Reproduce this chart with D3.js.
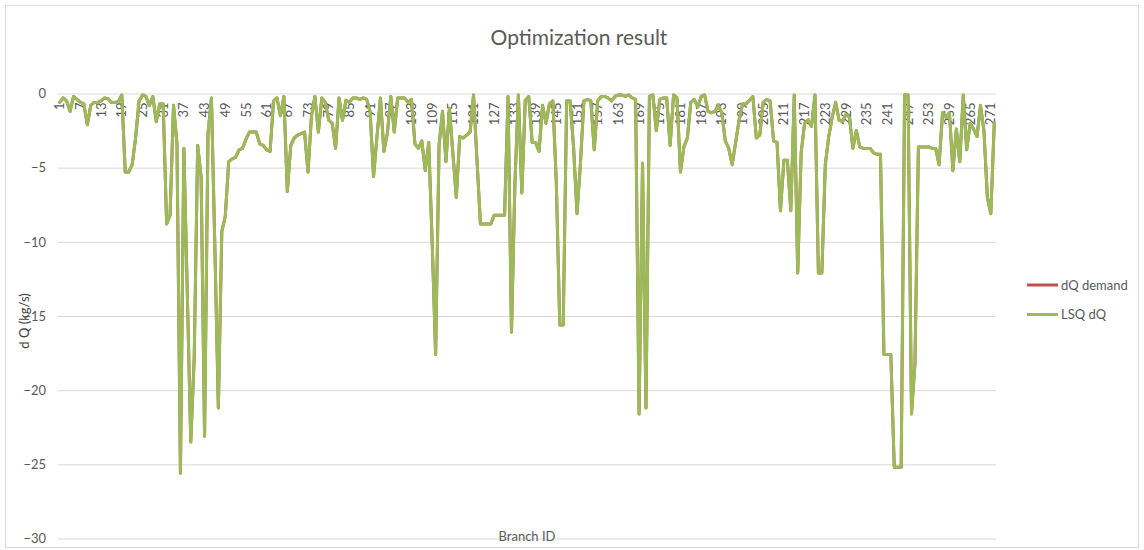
<!DOCTYPE html>
<html>
<head>
<meta charset="utf-8">
<script src="https://cdn.jsdelivr.net/npm/d3@7"></script>
<style>
  body { margin: 0; background: #ffffff; }
  svg { display: block; font-family: Lato, "Open Sans", sans-serif; }
</style>
</head>
<body>
<svg id="chart" width="1144" height="550"></svg>
<script>
// Flow deviation per branch (kg/s)
const lsqDQ = [
  -0.6, -0.3, -0.5, -1.2, -0.2, -0.4, -0.6, -0.7, -2.1, -0.8,
  -0.6, -0.6, -0.5, -0.3, -0.35, -0.6, -0.6, -0.55, -0.1, -5.3,
  -5.3, -4.8, -3.0, -0.5, -0.1, -0.2, -0.8, -0.2, -1.9, -0.7,
  -0.7, -8.8, -8.2, -0.8, -3.4, -25.6, -3.7, -13.5, -23.5, -17.8,
  -3.5, -5.6, -23.1, -2.7, -0.3, -10.5, -21.2, -9.3, -8.3, -4.6,
  -4.4, -4.3, -3.8, -3.7, -3.1, -2.6, -2.6, -2.6, -3.4, -3.5,
  -3.8, -3.9, -0.5, -0.3, -1.5, -0.2, -6.6, -3.5, -3.0, -2.8,
  -2.7, -2.6, -5.3, -1.5, -0.2, -2.6, -0.3, -0.6, -1.8, -2.0,
  -3.7, -0.3, -1.8, -0.45, -0.6, -0.3, -0.3, -0.4, -0.3, -0.4,
  -1.2, -5.6, -2.9, -0.3, -3.9, -2.7, -0.2, -2.6, -0.3, -0.3,
  -0.3, -0.6, -0.4, -3.4, -3.7, -3.2, -5.2, -3.3, -10.0, -17.6,
  -3.5, -1.2, -4.6, -1.0, -4.0, -7.0, -2.9, -3.0, -2.8, -2.6,
  -0.1, -4.5, -8.8, -8.8, -8.8, -8.8, -8.2, -8.2, -8.2, -8.2,
  -0.2, -16.1, -6.0, -0.1, -6.7, -0.45, -0.2, -3.3, -3.3, -3.9,
  -0.8, -2.0, -0.7, -0.5, -6.0, -15.6, -15.6, -0.5, -0.5, -3.6,
  -8.1, -4.7, -0.5, -0.4, -0.5, -3.8, -0.5, -0.2, -0.2, -0.3,
  -0.5, -0.2, -0.1, -0.1, -0.2, -0.1, -0.3, -0.4, -21.6, -4.7,
  -21.2, -0.2, -0.1, -2.5, -0.4, -0.3, -0.3, -3.5, -0.1, -0.3,
  -5.3, -3.6, -3.0, -0.6, -0.4, -0.9, -0.2, -0.1, -1.2, -1.3,
  -1.2, -0.8, -1.3, -3.2, -3.7, -4.8, -3.3, -1.8, -0.7, -0.7,
  -0.45, -0.2, -3.0, -2.8, -0.6, -0.4, -0.5, -3.2, -3.3, -7.9,
  -4.5, -4.5, -7.9, -0.1, -12.1, -4.0, -2.0, -1.8, -2.2, -0.1,
  -12.1, -12.1, -4.8, -2.9, -1.6, -0.6, -1.8, -1.9, -1.4, -1.6,
  -3.7, -2.5, -3.6, -3.7, -3.7, -3.7, -4.0, -4.1, -4.1, -17.6,
  -17.6, -17.6, -25.2, -25.2, -25.2, -0.1, -0.1, -21.6, -18.2, -3.6,
  -3.6, -3.6, -3.6, -3.7, -3.7, -4.8, -1.3, -1.6, -1.3, -5.2,
  -2.4, -4.6, -0.1, -3.8, -2.0, -2.4, -2.9, -0.8, -2.5, -7.0,
  -8.1, -2.0
];

// Demanded flow change per branch (kg/s)
const demandDQ = [
  -0.6, -0.3, -0.5, -1.2, -0.2, -0.4, -0.6, -0.7, -2.1, -0.8,
  -0.6, -0.6, -0.5, -0.3, -0.35, -0.6, -0.6, -0.55, -0.1, -5.3,
  -5.3, -4.8, -3.0, -0.5, -0.1, -0.2, -0.8, -0.2, -1.9, -0.7,
  -0.7, -8.8, -8.2, -0.8, -3.4, -25.6, -3.7, -13.5, -23.5, -17.8,
  -3.5, -5.6, -23.1, -2.7, -0.3, -10.5, -21.2, -9.3, -8.3, -4.6,
  -4.4, -4.3, -3.8, -3.7, -3.1, -2.6, -2.6, -2.6, -3.4, -3.5,
  -3.8, -3.9, -0.5, -0.3, -1.5, -0.2, -6.6, -3.5, -3.0, -2.8,
  -2.7, -2.6, -5.3, -1.5, -0.2, -2.6, -0.3, -0.6, -1.8, -2.0,
  -3.7, -0.3, -1.8, -0.45, -0.6, -0.3, -0.3, -0.4, -0.3, -0.4,
  -1.2, -5.6, -2.9, -0.3, -3.9, -2.7, -0.2, -2.6, -0.3, -0.3,
  -0.3, -0.6, -0.4, -3.4, -3.7, -3.2, -5.2, -3.3, -10.0, -17.6,
  -3.5, -1.2, -4.6, -1.0, -4.0, -7.0, -2.9, -3.0, -2.8, -2.6,
  -0.1, -4.5, -8.8, -8.8, -8.8, -8.8, -8.2, -8.2, -8.2, -8.2,
  -0.2, -16.1, -6.0, -0.1, -6.7, -0.45, -0.2, -3.3, -3.3, -3.9,
  -0.8, -2.0, -0.7, -0.5, -6.0, -15.6, -15.6, -0.5, -0.5, -3.6,
  -8.1, -4.7, -0.5, -0.4, -0.5, -3.8, -0.5, -0.2, -0.2, -0.3,
  -0.5, -0.2, -0.1, -0.1, -0.2, -0.1, -0.3, -0.4, -21.6, -4.7,
  -21.2, -0.2, -0.1, -2.5, -0.4, -0.3, -0.3, -3.5, -0.1, -0.3,
  -5.3, -3.6, -3.0, -0.6, -0.4, -0.9, -0.2, -0.1, -1.2, -1.3,
  -1.2, -0.8, -1.3, -3.2, -3.7, -4.8, -3.3, -1.8, -0.7, -0.7,
  -0.45, -0.2, -3.0, -2.8, -0.6, -0.4, -0.5, -3.2, -3.3, -7.9,
  -4.5, -4.5, -7.9, -0.1, -12.1, -4.0, -2.0, -1.8, -2.2, -0.1,
  -12.1, -12.1, -4.8, -2.9, -1.6, -0.6, -1.8, -1.9, -1.4, -1.6,
  -3.7, -2.5, -3.6, -3.7, -3.7, -3.7, -4.0, -4.1, -4.1, -17.6,
  -17.6, -17.6, -25.2, -25.2, -25.2, -0.1, -0.1, -21.6, -18.2, -3.6,
  -3.6, -3.6, -3.6, -3.7, -3.7, -4.8, -1.3, -1.6, -1.3, -5.2,
  -2.4, -4.6, -0.1, -3.8, -2.0, -2.4, -2.9, -0.8, -2.5, -7.0,
  -8.1, -2.0
];

const seriesNames = ["dQ demand", "LSQ dQ"];
const seriesColors = ["#C0504D", "#9BBB59"];

const xTickLabels = [1, 7, 13, 19, 25, 31, 37, 43, 49, 55, 61, 67, 73, 79, 85, 91,
  97, 103, 109, 115, 121, 127, 133, 139, 145, 151, 157, 163, 169, 175, 181, 187,
  193, 199, 205, 211, 217, 223, 229, 235, 241, 247, 253, 259, 265, 271];
const yTicks = [0, -5, -10, -15, -20, -25, -30];

const branchIds = lsqDQ.map((d, i) => i + 1);

const textColor = "#595959";
const svg = d3.select("#chart");

// chart frame
svg.append("rect")
  .attr("x", 5.5).attr("y", 5.5)
  .attr("width", 1133).attr("height", 542)
  .attr("fill", "#ffffff")
  .attr("stroke", "#d9d9d9").attr("stroke-width", 1);

const plot = { left: 58, right: 996, top: 93.5, bottom: 538.5 };

const x = d3.scaleBand().domain(branchIds).range([plot.left, plot.right]);
const xc = id => x(id) + x.bandwidth() / 2;
const y = d3.scaleLinear().domain([-30, 0]).range([plot.bottom, plot.top]);

// horizontal gridlines + value labels
const yAxis = d3.axisLeft(y)
  .tickValues(yTicks)
  .tickSize(-(plot.right - plot.left))
  .tickPadding(12)
  .tickFormat(d3.format("d"));

const gy = svg.append("g")
  .attr("transform", `translate(${plot.left},0)`)
  .call(yAxis);
gy.select(".domain").remove();
gy.selectAll(".tick line").attr("stroke", "#d9d9d9").attr("stroke-width", 1);
gy.selectAll(".tick text")
  .attr("fill", textColor)
  .style("font-size", "13px")
  .style("font-family", "Lato, 'Open Sans', sans-serif");

// category labels hang below the zero line, rotated
const xAxis = d3.axisBottom(x)
  .tickValues(xTickLabels)
  .tickSize(0)
  .tickFormat(d3.format("d"));

const gx = svg.append("g")
  .attr("transform", `translate(0,${y(0)})`)
  .call(xAxis);
gx.select(".domain").remove();
gx.selectAll(".tick text")
  .attr("fill", textColor)
  .style("font-size", "13px")
  .style("font-family", "Lato, 'Open Sans', sans-serif")
  .attr("text-anchor", "end")
  .attr("transform", "translate(0,9) rotate(-90)")
  .attr("x", 0)
  .attr("y", 0)
  .attr("dy", "0.35em");

// series lines
const line = d3.line()
  .x((d, i) => xc(branchIds[i]))
  .y(d => y(d));

[demandDQ, lsqDQ].forEach((vals, k) => {
  svg.append("path")
    .datum(vals)
    .attr("fill", "none")
    .attr("stroke", seriesColors[k])
    .attr("stroke-width", 3)
    .attr("stroke-linejoin", "round")
    .attr("stroke-linecap", "round")
    .attr("d", line);
});

// title
svg.append("text")
  .attr("x", 579).attr("y", 45)
  .attr("text-anchor", "middle")
  .attr("fill", textColor)
  .style("font-size", "21px")
  .text("Optimization result");

// axis titles
svg.append("text")
  .attr("x", 527).attr("y", 541)
  .attr("text-anchor", "middle")
  .attr("fill", textColor)
  .style("font-size", "13px")
  .text("Branch ID");

svg.append("text")
  .attr("transform", "translate(29,321) rotate(-90)")
  .attr("text-anchor", "middle")
  .attr("fill", "#404040")
  .style("font-size", "13px")
  .text("d Q (kg/s)");

// legend
const legend = svg.append("g");
seriesNames.forEach((name, k) => {
  const ly = 285 + k * 29.5;
  legend.append("line")
    .attr("x1", 1027).attr("x2", 1058)
    .attr("y1", ly).attr("y2", ly)
    .attr("stroke", seriesColors[k])
    .attr("stroke-width", 3);
  legend.append("text")
    .attr("x", 1061).attr("y", ly)
    .attr("dy", "0.35em")
    .attr("fill", textColor)
    .style("font-size", "13px")
    .text(name);
});
</script>
</body>
</html>
